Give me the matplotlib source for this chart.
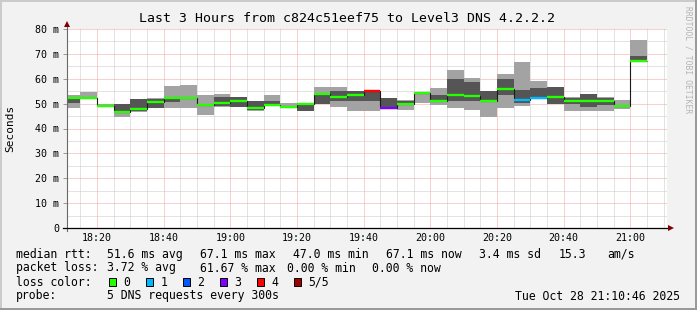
import numpy as np
import matplotlib
matplotlib.use("Agg")
from matplotlib import pyplot as plt
from matplotlib.patches import Rectangle

# 5-minute bins, start time in minutes after 18:00
bin_start = list(range(10, 185, 5))

# five sorted pings per bin (ms)
ping_min = [48.1, 52.0, 48.7, 44.7, 46.7, 48.1, 48.1, 48.1, 45.3, 48.8,
            48.7, 47.2, 49.0, 48.3, 46.9, 49.9, 48.7, 46.9, 46.9, 48.0,
            47.5, 50.2, 49.5, 48.2, 47.5, 44.7, 48.3, 48.9, 52.1, 49.7,
            47.1, 47.1, 47.1, 48.0, 66.9]
ping_lo = [50.1, 52.1, 49.0, 46.6, 46.9, 48.2, 50.6, 52.2, 49.4, 48.9,
           48.8, 47.3, 49.2, 48.4, 47.0, 50.0, 51.0, 51.0, 51.0, 48.1,
           49.7, 54.1, 50.8, 51.0, 51.1, 50.9, 53.3, 50.4, 52.2, 49.8,
           50.0, 48.7, 49.3, 49.0, 67.0]
median = [52.1, 52.2, 49.2, 46.8, 48.0, 50.8, 52.3, 52.3, 49.5, 50.3,
          51.2, 48.3, 49.6, 48.6, 49.8, 53.9, 52.7, 53.5, 55.1, 48.3,
          49.8, 54.2, 51.0, 53.5, 52.9, 51.1, 55.9, 51.3, 52.3, 52.8,
          51.1, 51.1, 51.1, 49.1, 67.1]
ping_hi = [52.3, 52.4, 49.5, 49.8, 51.7, 52.0, 52.4, 52.4, 49.7, 52.5,
           52.5, 50.9, 50.9, 49.0, 49.9, 54.0, 54.9, 54.9, 55.2, 52.2,
           51.2, 54.3, 53.3, 59.7, 58.5, 54.9, 59.9, 55.5, 56.4, 56.5,
           52.4, 53.7, 52.4, 49.6, 69.1]
ping_max = [53.3, 54.7, 50.0, 49.9, 51.8, 52.1, 57.1, 57.5, 53.3, 53.9,
            52.6, 51.0, 53.3, 50.2, 50.0, 56.5, 56.5, 55.0, 55.3, 52.3,
            51.3, 54.4, 56.1, 63.6, 60.5, 55.0, 62.1, 66.9, 59.1, 56.6,
            52.5, 53.8, 52.5, 51.6, 75.6]
# lost pings per bin (of 5)
loss = [0, 0, 0, 0, 0, 0, 0, 0, 0, 0,
        0, 0, 0, 0, 0, 0, 0, 0, 4, 3,
        0, 0, 0, 0, 0, 0, 0, 1, 1, 0,
        0, 0, 0, 0, 0]

loss_labels = ["0", "1", "2", "3", "4", "5/5"]
loss_colors = ["#26ff00", "#00b8ff", "#0059ff", "#7e00ff", "#ff0000", "#a10000"]

xtick_pos = [20, 40, 60, 80, 100, 120, 140, 160, 180]
xtick_labels = ["18:20", "18:40", "19:00", "19:20", "19:40", "20:00", "20:20", "20:40", "21:00"]
ytick_pos = [0, 10, 20, 30, 40, 50, 60, 70, 80]
ytick_labels = ["0", "10 m", "20 m", "30 m", "40 m", "50 m", "60 m", "70 m", "80 m"]

W, H = 697, 310
MONO = "DejaVu Sans Mono"


def fx(x):
    return x / W


def fy(y):
    return 1 - y / H


fig = plt.figure(figsize=(W / 100, H / 100), dpi=100)
fig.patch.set_facecolor("#f2f2f2")

# 3d-ish frame
fig.add_artist(Rectangle((0, fy(2)), 1, 2 / H, transform=fig.transFigure, color="#cbcbcb", lw=0))
fig.add_artist(Rectangle((0, 0), 2 / W, 1, transform=fig.transFigure, color="#cbcbcb", lw=0))
fig.add_artist(Rectangle((0, 0), 1, 2 / H, transform=fig.transFigure, color="#999999", lw=0))
fig.add_artist(Rectangle((fx(W - 2), 0), 2 / W, 1, transform=fig.transFigure, color="#999999", lw=0))

ax = fig.add_axes([fx(67), fy(228), 600 / W, 199 / H])
ax.set_facecolor("white")
for s in ax.spines.values():
    s.set_visible(False)

starts = np.array(bin_start)
lo = np.array(ping_min)
hi = np.array(ping_max)
ax.bar(starts, hi - lo, width=5, bottom=lo, align="edge", color="#a3a3a3", lw=0, zorder=2)
ax.bar(starts, np.array(ping_hi) - np.array(ping_lo), width=5, bottom=ping_lo,
       align="edge", color="#555555", lw=0, zorder=3)

edges = np.append(starts, starts[-1] + 5)
ax.stairs(median, edges, baseline=None, color="#1a1a1a", lw=0.8, zorder=4)
ax.hlines(median, starts, starts + 5, colors=[loss_colors[l] for l in loss], lw=1.7, zorder=5)

ax.set_xlim(11, 191)
ax.set_ylim(0, 80)
ax.set_xticks(xtick_pos)
ax.set_xticklabels(xtick_labels, fontfamily=MONO, fontsize=7.2)
ax.set_xticks(np.arange(15, 191, 5), minor=True)
ax.set_yticks(ytick_pos)
ax.set_yticklabels(ytick_labels, fontfamily=MONO, fontsize=7.2)
ax.set_yticks(np.arange(5, 80, 10), minor=True)
ax.tick_params(axis="x", which="both", length=0, pad=3.5)
ax.tick_params(axis="y", which="major", length=3, width=0.7, color="#999999", pad=2.5)
ax.tick_params(axis="y", which="minor", length=0)
ax.set_axisbelow(True)
ax.grid(which="major", color="#f2a2a2", lw=0.72, linestyle=(0, (1, 1)))
ax.grid(which="minor", color="#c8c8c8", lw=0.72, linestyle=(0, (1, 1)))

# axes lines with arrows
ax.plot([0, 0], [-0.015, 1.02], color="#6a6a6a", lw=0.8, transform=ax.transAxes, clip_on=False, zorder=6)
ax.plot([0], [(228 - 23.5) / 199], marker="^", ms=4.5, color="#7f0000", mew=0,
        transform=ax.transAxes, clip_on=False, zorder=7)
ax.plot([-0.0067, 1.003], [0, 0], color="#000000", lw=0.9, transform=ax.transAxes, clip_on=False, zorder=6)
ax.plot([(670.5 - 67) / 600], [0], marker=">", ms=4.5, color="#7f0000", mew=0,
        transform=ax.transAxes, clip_on=False, zorder=7)

fig.text(fx(347), fy(19), "Last 3 Hours from c824c51eef75 to Level3 DNS 4.2.2.2",
         fontfamily=MONO, fontsize=9.5, ha="center", va="center")
fig.text(fx(10), fy(128), "Seconds", fontfamily=MONO, fontsize=8, rotation=90,
         ha="center", va="center")
fig.text(fx(688), fy(60), "RRDTOOL / TOBI OETIKER", fontfamily=MONO, fontsize=5.8,
         rotation=270, ha="center", va="center", color="#b4b4b4")

# legend block
leg = dict(fontfamily=MONO, fontsize=8.3, va="center")
row1 = [(16, "median rtt:"), (107.3, "51.6 ms avg"), (200, "67.1 ms max"), (293.3, "47.0 ms min"),
        (386, "67.1 ms now"), (479.3, "3.4 ms sd"), (559, "15.3"), (607.3, "am/s")]
row2 = [(16, "packet loss:"), (107.3, "3.72 % avg"), (200, "61.67 % max"),
        (286.7, "0.00 % min"), (372.3, "0.00 % now")]
for x, t in row1:
    fig.text(fx(x), fy(254.3), t, **leg)
for x, t in row2:
    fig.text(fx(x), fy(268), t, **leg)

fig.text(fx(16), fy(282), "loss color:", **leg)
for i, (lab, col) in enumerate(zip(loss_labels, loss_colors)):
    bx = 108.7 + i * 37
    fig.add_artist(Rectangle((fx(bx), fy(285.7)), 7.3 / W, 7.3 / H, transform=fig.transFigure,
                             facecolor=col, edgecolor="black", lw=0.7))
    fig.text(fx(bx + 14.6), fy(282), lab, **leg)

fig.text(fx(16), fy(296), "probe:", **leg)
fig.text(fx(107.3), fy(296), "5 DNS requests every 300s", **leg)
fig.text(fx(680), fy(296), "Tue Oct 28 21:10:46 2025", ha="right", **leg)

fig.savefig("out.png", dpi=100, facecolor=fig.get_facecolor())
